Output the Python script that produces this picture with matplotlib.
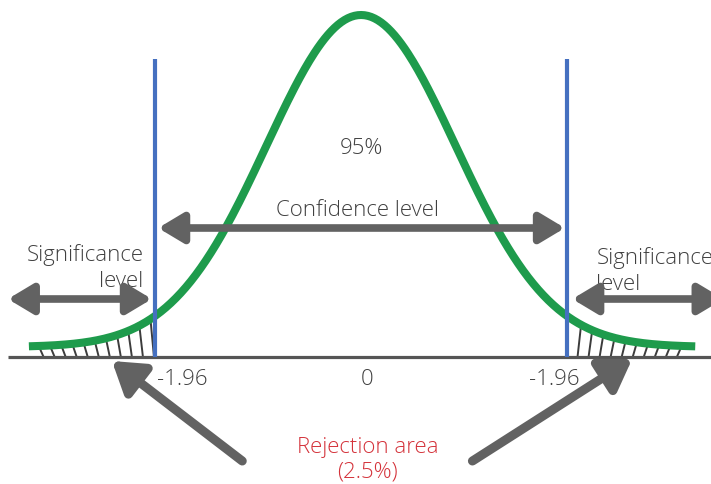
import numpy as np
import matplotlib.pyplot as plt
from matplotlib.patches import FancyArrowPatch

plt.rcParams['font.family'] = ['Open Sans', 'DejaVu Sans']

# critical values and labels
crit = [-1.96, 1.96]
tick_pos = [-1.96, 0, 1.96]
tick_labels = ['-1.96', '0', '-1.96']
conf_pct = 95
tail_pct = 2.5

# bell curve shape (drawn a bit above the axis line)
sigma = 0.9
floor = 10
height = 332

def bell(z):
    return floor + height * np.exp(-z ** 2 / (2 * sigma ** 2))

green = '#1e9b4c'
blue = '#4570c0'
grey = '#626262'
red = '#d4323a'

fig = plt.figure(figsize=(7.11, 4.85), dpi=100)
ax = fig.add_axes([0, 0, 1, 1])
ax.set_xlim(-3.435, 3.33)
ax.set_ylim(-127, 358)
ax.axis('off')

# axis line
ax.plot([-3.36, 3.4], [0, 0], color='#555555', lw=2.3, solid_capstyle='butt', zorder=2)

# hatched rejection tails
for lo, hi, lean in [(-3.02, -1.96, -0.03), (2.06, 3.06, 0.03)]:
    for z in np.arange(lo, hi + 0.01, 0.105):
        top = z + lean
        ax.plot([z, top], [0, bell(top) - 4], color='#3c3c3c', lw=1.4, zorder=1)

# curve
zz = np.linspace(-3.16, 3.18, 400)
ax.plot(zz, bell(zz), color=green, lw=5.8, solid_capstyle='butt', zorder=3)

# critical value lines
for c in crit:
    ax.plot([c, c], [0, 298], color=blue, lw=3.0, solid_capstyle='butt', zorder=4)

def arrow(p0, p1, style, ms=11, lw=5.5):
    a = FancyArrowPatch(p0, p1, arrowstyle=style, mutation_scale=ms,
                        color=grey, lw=lw, shrinkA=0, shrinkB=0, zorder=5)
    ax.add_patch(a)

hs = '<|-|>,head_length=1.0,head_width=0.6'
arrow((-1.93, 129), (1.94, 129), hs, ms=15)
arrow((-3.36, 58), (-1.99, 58), hs, ms=15)
arrow((2.01, 58), (3.45, 58), hs, ms=15)
arrow((-1.13, -104), (-2.37, -4), '-|>,head_length=1.0,head_width=0.65', ms=18, lw=6.5)
arrow((1.06, -104), (2.58, -2), '-|>,head_length=1.0,head_width=0.65', ms=18, lw=6.5)

fs = 16
tc = '#404040'
tw = 'light'
ax.text(0, 210, f'{conf_pct}%', ha='center', va='center', fontsize=fs, color=tc, fontweight=tw)
ax.text(-0.03, 148, 'Confidence level', ha='center', va='center', fontsize=fs, color=tc, fontweight=tw)
ax.text(-2.07, 90, 'Significance\nlevel', ha='right', va='center', fontsize=fs, color=tc,
        linespacing=1.3, multialignment='right', fontweight=tw)
ax.text(2.24, 87, 'Significance\nlevel', ha='left', va='center', fontsize=fs, color=tc,
        linespacing=1.3, multialignment='left', fontweight=tw)

tick_x = [p + (0.26 if p < 0 else (-0.12 if p > 0 else 0.06)) for p in tick_pos]
for x, lab in zip(tick_x, tick_labels):
    ax.text(x, -22, lab, ha='center', va='center', fontsize=fs, color=tc, fontweight=tw)

ax.text(0.06, -102, f'Rejection area\n({tail_pct}%)', ha='center', va='center', fontsize=fs,
        color=red, linespacing=1.25, fontweight=tw)

fig.savefig('out.png', dpi=100)
